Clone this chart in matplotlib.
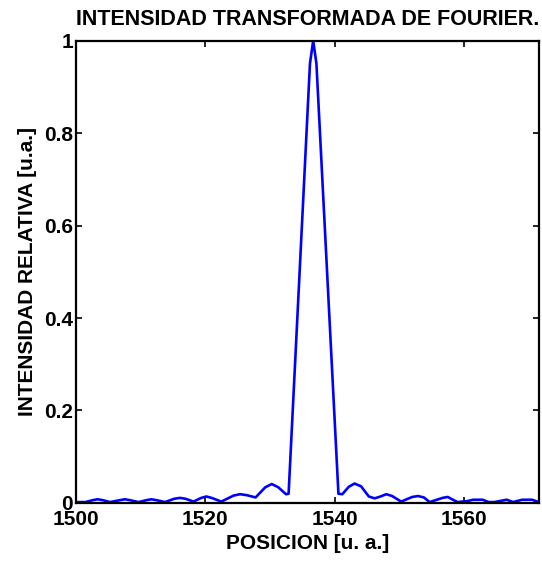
import matplotlib
matplotlib.use("Agg")
import matplotlib.pyplot as plt

# posiciones y valores
posicion = [1500.0, 1501.5, 1502.6, 1503.4, 1504.2, 1505.3, 1506.8, 1507.6,
            1508.4, 1509.7, 1510.9, 1511.7, 1512.5, 1513.8, 1515.2, 1516.1,
            1517.0, 1518.2, 1519.4, 1520.2, 1521.0, 1522.5, 1524.4, 1525.4,
            1526.4, 1527.8, 1529.3, 1530.3, 1531.3, 1532.5, 1532.9, 1536.2,
            1536.7, 1537.2, 1540.6, 1541.2, 1542.2, 1543.1, 1544.1, 1545.3,
            1546.2, 1547.1, 1548.0, 1548.9, 1550.3, 1552.0, 1552.9, 1553.8,
            1554.7, 1556.7, 1557.5, 1558.3, 1559.0, 1560.5, 1561.4, 1562.9,
            1563.8, 1564.7, 1566.6, 1567.6, 1569.0, 1570.5, 1571.6]
intensidad = [0.002, 0.002, 0.006, 0.008, 0.006, 0.002, 0.006, 0.008,
              0.006, 0.002, 0.006, 0.008, 0.006, 0.002, 0.009, 0.011,
              0.009, 0.003, 0.011, 0.014, 0.011, 0.003, 0.016, 0.019,
              0.017, 0.012, 0.034, 0.041, 0.034, 0.019, 0.020, 0.950,
              1.000, 0.950, 0.020, 0.019, 0.035, 0.042, 0.036, 0.014,
              0.010, 0.014, 0.019, 0.015, 0.003, 0.013, 0.015, 0.012,
              0.002, 0.011, 0.013, 0.007, 0.002, 0.004, 0.007, 0.007,
              0.002, 0.002, 0.007, 0.002, 0.007, 0.007, 0.002]

xticks = [1500, 1520, 1540, 1560]
yticks = [0, 0.2, 0.4, 0.6, 0.8, 1]
yticklabels = ["0", "0.2", "0.4", "0.6", "0.8", "1"]

plt.rcParams['font.family'] = ['Liberation Sans', 'DejaVu Sans']
plt.rcParams['font.weight'] = 'bold'

fig = plt.figure(figsize=(5.42, 5.63), dpi=100)
ax = fig.add_axes([0.1397, 0.1066, 0.8548, 0.8214])

ax.plot(posicion, intensidad, color=(0, 0, 1), linewidth=1.9)

ax.set_xlim(1500, 1571.6)
ax.set_ylim(0, 1)
ax.set_xticks(xticks)
ax.set_yticks(yticks)
ax.set_yticklabels(yticklabels)

ax.tick_params(direction='in', length=4, width=1.2, top=True, right=True,
               labelsize=15)
ax.tick_params(axis='x', pad=5)
ax.tick_params(axis='y', pad=2)
for lbl in ax.get_xticklabels() + ax.get_yticklabels():
    lbl.set_fontweight('bold')
for sp in ax.spines.values():
    sp.set_linewidth(1.6)

ax.set_title("INTENSIDAD TRANSFORMADA DE FOURIER.", fontsize=15.5,
             fontweight='bold', pad=11)
ax.set_xlabel("POSICION [u. a.]", fontsize=15, fontweight='bold', labelpad=4)
ax.set_ylabel("INTENSIDAD RELATIVA [u.a.]", fontsize=15, fontweight='bold',
              labelpad=5)

fig.savefig("out.png", dpi=100)
